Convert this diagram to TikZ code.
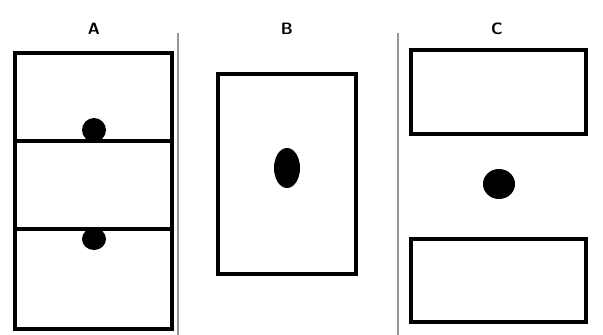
\documentclass[tikz,border=0pt]{standalone}
\usepackage{tikz}
\usetikzlibrary{positioning}
\definecolor{sepgray}{RGB}{150,150,150}
\tikzset{
  panelbox/.style={draw=black, line width=3.2pt},
  blob/.style={fill=black},
  sepline/.style={draw=sepgray, line width=1.2pt},
  paneltitle/.style={font=\fontsize{14}{16}\selectfont\sffamily\bfseries, inner sep=0pt}
}
\begin{document}
\begin{tikzpicture}[x=0.03cm, y=-0.03cm]
  \useasboundingbox (0,0) rectangle (603,335);
  % Separators
  \draw[sepline] (178,33) -- (178,335);
  \draw[sepline] (398,33) -- (398,335);

  % Panel A
  \node[paneltitle] (titleA) at (94,29) {A};
  \fill[blob] (94,130) circle (12);
  \fill[blob] (94,239) ellipse (12 and 11);
  \draw[panelbox] (15,53) rectangle (172,141);
  \draw[panelbox] (15,141) rectangle (172,229);
  \draw[panelbox] (15,229) rectangle (172,329);

  % Panel B
  \node[paneltitle] (titleB) at (287,29) {B};
  \draw[panelbox] (218,74) rectangle (356,274);
  \fill[blob] (287,168) ellipse (13 and 20);

  % Panel C
  \node[paneltitle] (titleC) at (497,29) {C};
  \draw[panelbox] (411,50) rectangle (586,134);
  \fill[blob] (499,184) ellipse (16 and 15);
  \draw[panelbox] (411,239) rectangle (586,322);
\end{tikzpicture}
\end{document}
